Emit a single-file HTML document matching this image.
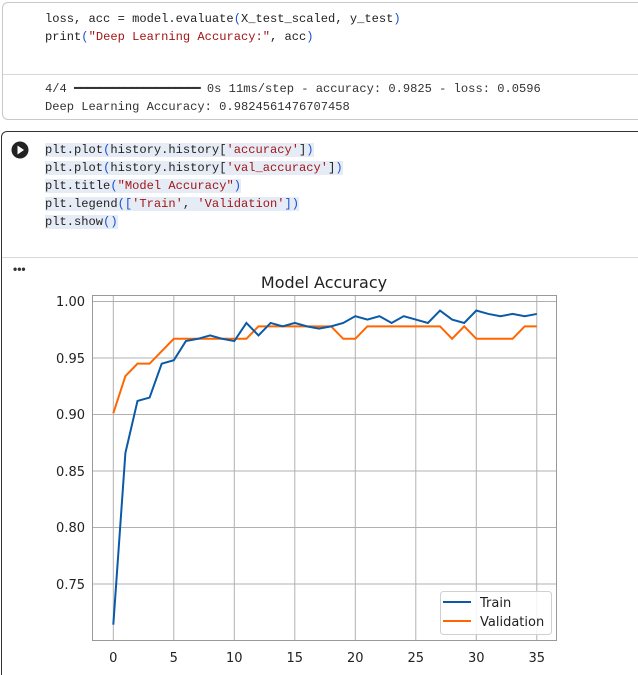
<!DOCTYPE html>
<html><head><meta charset="utf-8"><style>
html,body{margin:0;width:638px;height:675px;background:#fff;overflow:hidden;position:relative;font-family:"Liberation Mono",monospace;}
.cell1{position:absolute;left:2px;top:2px;width:636px;height:118px;border:1px solid #c8c8c8;border-right:none;border-radius:6px 0 0 6px;box-sizing:border-box;}
.sep1{position:absolute;left:3px;top:74px;width:635px;height:1px;background:#d8d8d8;}
.cell2{position:absolute;left:1px;top:131px;width:637px;height:544px;border:1px solid #333;border-right:none;border-bottom:none;border-radius:6px 0 0 0;box-sizing:border-box;}
.sep2{position:absolute;left:2px;top:257px;width:636px;height:1px;background:#d8d8d8;}
.code{position:absolute;left:45px;font-size:12.1px;line-height:18px;color:#222;white-space:pre;}
.s{color:#a31515}.p{color:#1a4fd0}
.hl{background:#e6ecf5}
</style></head><body>
<div class="cell1"></div><div class="sep1"></div>
<div class="code" style="top:10px">loss, acc = model.evaluate<span class="p">(</span>X_test_scaled, y_test<span class="p">)</span>
print<span class="p">(</span><span class="s">"Deep Learning Accuracy:"</span>, acc<span class="p">)</span></div>
<div class="code" style="top:80px;color:#333">4/4 <span style="letter-spacing:-1px">━━━━━━━━━━━━━━━━━━━━</span> 0s 11ms/step - accuracy: 0.9825 - loss: 0.0596
Deep Learning Accuracy: 0.9824561476707458</div>
<div class="cell2"></div><div class="sep2"></div>
<svg style="position:absolute;left:11px;top:141px" width="18" height="18"><circle cx="9" cy="9" r="8.5" fill="#222"/><path d="M6.5 4.5 L13 9 L6.5 13.5Z" fill="#fff"/></svg>
<div class="code" style="top:141px"><span class="hl">plt.plot<span class="p">(</span>history.history[<span class="s">'accuracy'</span>]<span class="p">)</span></span>
<span class="hl">plt.plot<span class="p">(</span>history.history[<span class="s">'val_accuracy'</span>]<span class="p">)</span></span>
<span class="hl">plt.title<span class="p">(</span><span class="s">"Model Accuracy"</span><span class="p">)</span></span>
<span class="hl">plt.legend<span class="p">([</span><span class="s">'Train'</span>, <span class="s">'Validation'</span><span class="p">])</span></span>
<span class="hl">plt.show<span class="p">()</span></span></div>
<div style="position:absolute;left:13px;top:262px;font:bold 12px 'Liberation Sans',sans-serif;color:#333">•••</div>
<svg style="position:absolute;left:0;top:0" width="638" height="675" font-family="'DejaVu Sans','Liberation Sans',sans-serif">
<g stroke="#b0b0b0" stroke-width="1">
<line x1="113.3" y1="295" x2="113.3" y2="640"/><line x1="173.8" y1="295" x2="173.8" y2="640"/><line x1="234.3" y1="295" x2="234.3" y2="640"/><line x1="294.8" y1="295" x2="294.8" y2="640"/><line x1="355.3" y1="295" x2="355.3" y2="640"/><line x1="415.8" y1="295" x2="415.8" y2="640"/><line x1="476.3" y1="295" x2="476.3" y2="640"/><line x1="536.8" y1="295" x2="536.8" y2="640"/>
<line x1="92" y1="301.5" x2="557" y2="301.5"/><line x1="92" y1="358" x2="557" y2="358"/><line x1="92" y1="414.5" x2="557" y2="414.5"/><line x1="92" y1="471" x2="557" y2="471"/><line x1="92" y1="527.5" x2="557" y2="527.5"/><line x1="92" y1="584" x2="557" y2="584"/>
</g>
<rect x="92.5" y="295.5" width="464" height="345" fill="none" stroke="#999"/>
<g font-size="13" fill="#222" text-anchor="end">
<text x="85" y="306">1.00</text><text x="85" y="363">0.95</text><text x="85" y="419">0.90</text><text x="85" y="476">0.85</text><text x="85" y="532">0.80</text><text x="85" y="589">0.75</text>
</g>
<g font-size="13" fill="#222" text-anchor="middle">
<text x="113.3" y="662">0</text><text x="173.8" y="662">5</text><text x="234.3" y="662">10</text><text x="294.8" y="662">15</text><text x="355.3" y="662">20</text><text x="415.8" y="662">25</text><text x="476.3" y="662">30</text><text x="536.8" y="662">35</text>
</g>
<text x="324" y="288" font-size="16" text-anchor="middle" fill="#222">Model Accuracy</text>
<g transform="matrix(12.1 0 0 -1130 113.3 1431.5)" fill="none" stroke-width="2">
<polyline vector-effect="non-scaling-stroke" stroke="#ff6600" points="0,0.901 1,0.934 2,0.945 3,0.945 4,0.956 5,0.967 6,0.967 7,0.967 8,0.967 9,0.967 10,0.967 11,0.967 12,0.978 13,0.978 14,0.978 15,0.978 16,0.978 17,0.978 18,0.978 19,0.967 20,0.967 21,0.978 22,0.978 23,0.978 24,0.978 25,0.978 26,0.978 27,0.978 28,0.967 29,0.978 30,0.967 31,0.967 32,0.967 33,0.967 34,0.978 35,0.978"/>
<polyline vector-effect="non-scaling-stroke" stroke="#0a5aa8" points="0,0.714 1,0.866 2,0.912 3,0.915 4,0.945 5,0.948 6,0.965 7,0.967 8,0.970 9,0.967 10,0.965 11,0.981 12,0.970 13,0.981 14,0.978 15,0.981 16,0.978 17,0.976 18,0.978 19,0.981 20,0.987 21,0.984 22,0.987 23,0.981 24,0.987 25,0.984 26,0.981 27,0.992 28,0.984 29,0.981 30,0.992 31,0.989 32,0.987 33,0.989 34,0.987 35,0.989"/>
</g>
<rect x="440.5" y="591.5" width="111" height="43" rx="3" fill="#fff" fill-opacity="0.85" stroke="#d0d0d0"/>
<line x1="443" y1="602" x2="471" y2="602" stroke="#0a5aa8" stroke-width="2"/>
<line x1="443" y1="621" x2="471" y2="621" stroke="#ff6600" stroke-width="2"/>
<text x="480" y="607" font-size="13" fill="#222">Train</text>
<text x="480" y="626" font-size="13" fill="#222">Validation</text>
</svg>
</body></html>
